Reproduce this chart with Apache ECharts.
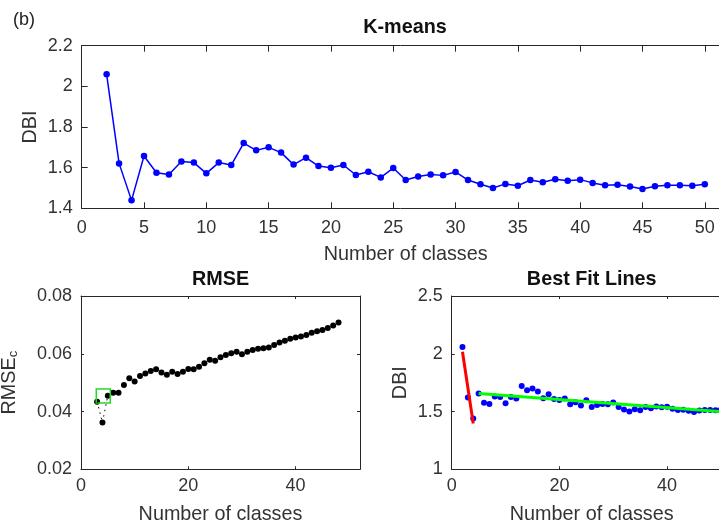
<!DOCTYPE html>
<html><head><meta charset="utf-8">
<script src="https://cdn.jsdelivr.net/npm/echarts@6/dist/echarts.min.js"></script>
<style>html,body{margin:0;padding:0;background:#fff}#c{width:719px;height:529px}</style>
</head><body><div id="c"></div>
<script>
// ---- data ----
const dbiClasses = [2,3,4,5,6,7,8,9,10,11,12,13,14,15,16,17,18,19,20,21,22,23,24,25,26,27,28,29,30,31,32,33,34,35,36,37,38,39,40,41,42,43,44,45,46,47,48,49,50];
const dbiValues = [2.059,1.621,1.439,1.657,1.575,1.566,1.630,1.625,1.572,1.625,1.613,1.721,1.685,1.700,1.674,1.615,1.649,1.608,1.600,1.613,1.564,1.580,1.552,1.598,1.539,1.556,1.566,1.562,1.579,1.539,1.518,1.500,1.520,1.511,1.539,1.528,1.543,1.536,1.541,1.525,1.513,1.516,1.507,1.495,1.508,1.513,1.513,1.511,1.518];
const rmseClasses = [3,4,5,6,7,8,9,10,11,12,13,14,15,16,17,18,19,20,21,22,23,24,25,26,27,28,29,30,31,32,33,34,35,36,37,38,39,40,41,42,43,44,45,46,47,48];
const rmseValues = [0.0434,0.0362,0.0455,0.0465,0.0465,0.0492,0.0515,0.0504,0.0523,0.0532,0.0540,0.0546,0.0535,0.0527,0.0538,0.0530,0.0538,0.0547,0.0546,0.0555,0.0567,0.0579,0.0576,0.0588,0.0596,0.0602,0.0607,0.0598,0.0607,0.0613,0.0617,0.0619,0.0622,0.0630,0.0639,0.0645,0.0652,0.0656,0.0660,0.0665,0.0673,0.0678,0.0682,0.0689,0.0698,0.0708];
const dottedCount = 3; // first three RMSE points joined by dotted line
const selectedPoint = [4.15, 0.0454];
const redFitX = [2, 4];
const redFitY = [2.017, 1.397];
const greenFitX = [5, 50];
const greenFitY = [1.657, 1.498];
const titles = ['K-means', 'RMSE', 'Best Fit Lines'];
const xLabel = 'Number of classes';

// ---- helpers ----
const FONT = 'Liberation Sans, Arial, Helvetica, sans-serif';
const AX = '#262626';
const TXT = '#333333';
const pair = (xs, ys) => xs.map((x, i) => [x, ys[i]]);

function xAxis(gi, min, max, interval, tick, main, margin, gap) {
  return {
    type: 'value', gridIndex: gi, min, max, interval,
    position: main ? 'bottom' : 'top',
    name: main ? xLabel : '', nameLocation: 'middle', nameGap: gap || 35, nameMoveOverlap: false,
    nameTextStyle: { fontFamily: FONT, fontSize: 19.8, color: TXT },
    axisLine: { show: true, onZero: false, lineStyle: { color: AX, width: 1 } },
    axisTick: { show: true, inside: true, length: tick, lineStyle: { color: AX, width: 1 } },
    axisLabel: { show: main, margin: margin || 8, showMaxLabel: false, fontFamily: FONT, fontSize: 18, color: TXT },
    splitLine: { show: false }
  };
}
function yAxis(gi, min, max, interval, tick, main, name, gap, rich) {
  const o = {
    type: 'value', gridIndex: gi, min, max, interval,
    position: main ? 'left' : 'right',
    name: main ? name : '', nameLocation: 'middle', nameGap: gap, nameMoveOverlap: false,
    nameTextStyle: { fontFamily: FONT, fontSize: 19.8, color: TXT },
    axisLine: { show: true, onZero: false, lineStyle: { color: AX, width: 1 } },
    axisTick: { show: true, inside: true, length: tick, lineStyle: { color: AX, width: 1 } },
    axisLabel: { show: main, margin: 9, fontFamily: FONT, fontSize: 18, color: TXT },
    splitLine: { show: false }
  };
  if (rich) o.nameTextStyle.rich = rich;
  return o;
}

const grids = [
  { left: 81.7, top: 45.7, width: 648, height: 162.6 },
  { left: 81, top: 296, width: 279, height: 173.3 },
  { left: 451.7, top: 296, width: 280, height: 173.3 }
].map(g => Object.assign({ containLabel: false, outerBoundsMode: 'none', show: false }, g));

const subRich = {
  a: { fontFamily: FONT, fontSize: 19.8, color: TXT, lineHeight: 20, verticalAlign: 'top' },
  b: { fontFamily: FONT, fontSize: 13, color: TXT, lineHeight: 9, verticalAlign: 'bottom' }
};

const option = {
  animation: false,
  backgroundColor: '#ffffff',
  grid: grids,
  xAxis: [
    xAxis(0, 0, 52, 5, 6, true, 11, 36), xAxis(0, 0, 52, 5, 6, false),
    xAxis(1, 0, 52, 20, 3, true, 8, 35), xAxis(1, 0, 52, 20, 3, false),
    xAxis(2, 0, 52, 20, 3, true, 8, 35), xAxis(2, 0, 52, 20, 3, false)
  ],
  yAxis: [
    yAxis(0, 1.4, 2.2, 0.2, 6, true, 'DBI', 41), yAxis(0, 1.4, 2.2, 0.2, 6, false),
    yAxis(1, 0.02, 0.08, 0.02, 3, true, '{a|RMSE}{b|c}', 61, subRich), yAxis(1, 0.02, 0.08, 0.02, 3, false),
    yAxis(2, 1, 2.5, 0.5, 3, true, 'DBI', 41), yAxis(2, 1, 2.5, 0.5, 3, false)
  ],
  graphic: [
    { type: 'text', left: 13, top: 11, style: { text: '(b)', font: '18px ' + FONT, fill: '#222' } },
    { type: 'text', x: 405, y: 28, style: { text: titles[0], font: 'bold 19.8px ' + FONT, fill: '#111', textAlign: 'center', textVerticalAlign: 'middle' } },
    { type: 'text', x: 220.5, y: 280, style: { text: titles[1], font: 'bold 19.8px ' + FONT, fill: '#111', textAlign: 'center', textVerticalAlign: 'middle' } },
    { type: 'text', x: 591.7, y: 280, style: { text: titles[2], font: 'bold 19.8px ' + FONT, fill: '#111', textAlign: 'center', textVerticalAlign: 'middle' } }
  ],
  series: [
    { type: 'line', xAxisIndex: 0, yAxisIndex: 0, data: pair(dbiClasses, dbiValues),
      symbol: 'circle', symbolSize: 6.5, showAllSymbol: true,
      lineStyle: { color: '#0000ff', width: 1.5 }, itemStyle: { color: '#0000ff', opacity: 1 } },
    { type: 'line', xAxisIndex: 2, yAxisIndex: 2, data: pair(rmseClasses.slice(0, dottedCount), rmseValues.slice(0, dottedCount)),
      symbol: 'none', lineStyle: { color: '#000', width: 1, type: [1.5, 4] } },
    { type: 'scatter', xAxisIndex: 2, yAxisIndex: 2, data: pair(rmseClasses, rmseValues),
      symbol: 'circle', symbolSize: 6, itemStyle: { color: '#000', opacity: 1 } },
    { type: 'scatter', xAxisIndex: 2, yAxisIndex: 2, data: [selectedPoint],
      symbol: 'rect', symbolSize: 14, itemStyle: { color: 'rgba(0,0,0,0)', borderColor: '#22dd22', borderWidth: 1.5, opacity: 1 } },
    { type: 'scatter', xAxisIndex: 4, yAxisIndex: 4, data: pair(dbiClasses, dbiValues),
      symbol: 'circle', symbolSize: 6, itemStyle: { color: '#0000ff', opacity: 1 } },
    { type: 'line', xAxisIndex: 4, yAxisIndex: 4, data: pair(redFitX, redFitY),
      symbol: 'none', lineStyle: { color: '#ff0000', width: 3 }, z: 3 },
    { type: 'line', xAxisIndex: 4, yAxisIndex: 4, data: pair(greenFitX, greenFitY),
      symbol: 'none', lineStyle: { color: '#00ff00', width: 3 }, z: 3 }
  ]
};
const chart = echarts.init(document.getElementById('c'), null, { renderer: 'canvas' });
chart.setOption(option);
</script></body></html>
